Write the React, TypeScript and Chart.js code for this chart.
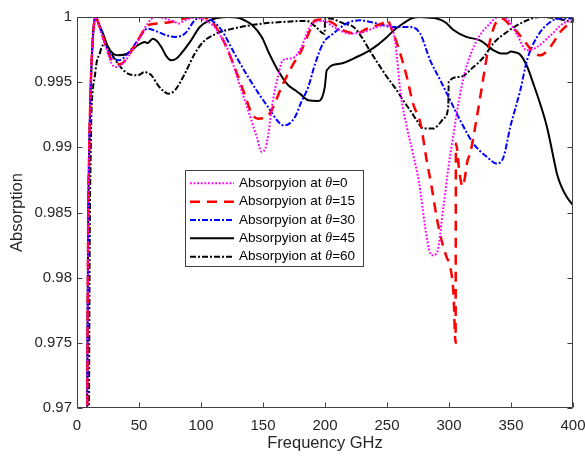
import React, { useEffect, useRef } from "react";
import { Chart, registerables } from "chart.js";

Chart.register(...registerables);

const FONT = "'Liberation Sans', Arial, sans-serif";
const AXIS_COLOR = "#404040";
const TEXT_COLOR = "#262626";

// Frequency (GHz) / absorption samples per incidence angle
const freq0 = [8, 9, 10, 11, 12, 13, 14, 15, 18, 21, 25, 28, 31, 35, 41, 49, 57, 63, 71, 78, 82, 87, 95, 103, 111, 116, 122, 130, 138, 145, 149, 153, 158, 162, 166, 174, 181, 186.5, 192, 199, 207, 220, 231, 242, 250, 254, 257, 261, 266, 271, 276, 282, 286, 290, 295.5, 299.6, 303.6, 309, 314, 322.5, 333, 340, 347, 355, 363, 371, 382, 392, 400];
const abs0 = [0.965, 0.9835, 0.9905, 0.9945, 0.997, 0.9987, 0.9997, 1.0, 0.9993, 0.9983, 0.9972, 0.9964, 0.99616, 0.9963, 0.9969, 0.9981, 0.9995, 1.0, 0.99988, 0.99965, 0.9995, 0.99975, 0.99995, 0.99975, 0.99923, 0.9985, 0.99744, 0.99514, 0.99284, 0.99079, 0.98964, 0.99029, 0.99361, 0.9954, 0.99668, 0.99685, 0.9977, 0.999, 0.99962, 0.9997, 0.99923, 0.99873, 0.99885, 0.99923, 0.99936, 0.9992, 0.9978, 0.9941, 0.99156, 0.9895, 0.9872, 0.98312, 0.98172, 0.98185, 0.98542, 0.98849, 0.991, 0.99412, 0.99616, 0.99821, 0.9995, 1.0, 0.99985, 0.9986, 0.99744, 0.9977, 0.9986, 0.9995, 0.99975];

const freq15 = [8, 9, 10, 11, 12, 13, 14, 15, 18, 21, 25, 28, 32, 36, 41, 49, 57, 65, 76, 87, 95, 102, 106, 111, 119, 127, 135, 141, 146, 153, 157, 165, 173, 181, 188, 192, 198, 207, 212, 225.6, 233.7, 242, 248, 250, 254, 259, 266, 271, 277, 282, 286, 290, 294, 298, 301, 303.6, 305.3, 305.6, 308.5, 311, 315, 317, 322.5, 326.5, 332, 337, 342.7, 349, 356, 362, 368, 373.6, 381.7, 389.7, 400];
const abs15 = [0.965, 0.9835, 0.9905, 0.9945, 0.997, 0.9987, 0.9997, 1.0, 0.9993, 0.9985, 0.9973, 0.99668, 0.9964, 0.99642, 0.997, 0.9982, 0.99936, 0.9995, 0.99962, 0.99988, 1.0, 1.0, 0.9998, 0.99936, 0.998, 0.99616, 0.99412, 0.99259, 0.9922, 0.99233, 0.99284, 0.99463, 0.99616, 0.99744, 0.999, 0.99975, 0.9998, 0.9995, 0.9991, 0.99873, 0.9991, 0.99936, 0.99962, 0.9998, 0.999, 0.9977, 0.9954, 0.99335, 0.99182, 0.989, 0.98696, 0.98466, 0.98287, 0.98159, 0.98082, 0.97878, 0.975, 0.9903, 0.988, 0.987, 0.989, 0.98952, 0.99233, 0.99463, 0.9977, 0.9994, 0.99988, 0.9994, 0.99873, 0.998, 0.99731, 0.99706, 0.9977, 0.99885, 0.99975];

const freq30 = [8, 9, 10, 11, 12, 13, 14, 15, 18, 21, 25, 29, 33.6, 41, 49, 57, 65.4, 72, 79, 87, 95, 100, 106, 116.5, 127, 138, 146, 154, 162, 166, 171, 175.8, 181, 186.5, 192, 198.6, 206.7, 217.5, 228, 242, 255, 269, 276.7, 284.8, 293, 300, 309, 319.7, 330.6, 338.6, 344, 349.4, 357.5, 362.9, 371, 381.7, 390, 400];
const abs30 = [0.965, 0.9835, 0.9905, 0.9945, 0.997, 0.9987, 0.9997, 1.0, 0.9993, 0.99847, 0.99744, 0.9969, 0.99668, 0.9972, 0.99821, 0.99911, 0.99885, 0.9986, 0.99847, 0.99873, 0.99975, 1.0, 0.9999, 0.999, 0.9972, 0.9954, 0.9942, 0.9931, 0.992, 0.99169, 0.9918, 0.99233, 0.9935, 0.99463, 0.9964, 0.998, 0.99873, 0.9995, 0.99975, 0.9995, 0.99923, 0.99923, 0.99873, 0.99668, 0.99514, 0.9938, 0.99207, 0.99029, 0.98926, 0.98875, 0.98926, 0.99156, 0.99438, 0.99668, 0.99847, 0.99962, 0.99988, 0.99988];

const freq45 = [8, 9, 10, 11, 12, 13, 14, 15, 18, 21, 25, 29, 33, 41, 49, 54.7, 57, 61, 64, 68, 72, 76, 80, 84, 92, 99, 106, 113, 122, 130, 135, 141, 149, 155, 162, 170, 176, 180, 186.5, 194, 197.5, 199.8, 201.4, 212, 225.6, 236, 243, 250, 257, 263, 270, 276.7, 284, 290, 297, 303.6, 314, 325, 336, 342, 346.7, 350, 353, 357.5, 363, 368, 374, 379, 383, 387, 391, 395, 400];
const abs45 = [0.966, 0.9835, 0.9905, 0.9945, 0.997, 0.9987, 0.9997, 1.0, 0.9994, 0.99873, 0.9977, 0.9972, 0.99706, 0.9972, 0.99783, 0.99808, 0.998, 0.99834, 0.9982, 0.9977, 0.997, 0.99668, 0.9968, 0.9972, 0.99821, 0.99923, 0.9997, 0.99992, 1.0, 0.99995, 0.99975, 0.9994, 0.99847, 0.9972, 0.99591, 0.9948, 0.99438, 0.9941, 0.99361, 0.99355, 0.9938, 0.9946, 0.99591, 0.99642, 0.99693, 0.99744, 0.9979, 0.99847, 0.9991, 0.9995, 0.9999, 1.0, 0.99995, 0.99988, 0.9996, 0.999, 0.99847, 0.99821, 0.99744, 0.9972, 0.9972, 0.99735, 0.9973, 0.9971, 0.9962, 0.99489, 0.9932, 0.99156, 0.9898, 0.988, 0.9869, 0.98619, 0.98555];

const freq60 = [9.5, 10.3, 11, 11.6, 12.5, 14.3, 16, 18.3, 20, 22.4, 25, 27.8, 33, 41, 49, 54.7, 57, 60, 65.4, 70, 73.5, 79, 87, 95, 101.7, 112.5, 126, 150, 166, 185, 192, 199.6, 200.2, 206, 215, 223, 230, 236, 243, 250, 257, 263, 269, 274, 279.4, 287.5, 293, 296, 299.4, 299.8, 309, 319.7, 328, 336, 346.7, 360, 373.6, 387, 400];
const abs60 = [0.965, 0.9836, 0.9892, 0.9925, 0.9942, 0.9954, 0.9966, 0.99719, 0.9977, 0.9979, 0.9977, 0.9972, 0.99642, 0.99566, 0.99553, 0.99578, 0.9957, 0.99553, 0.99476, 0.9943, 0.99412, 0.99438, 0.99566, 0.9972, 0.99808, 0.99873, 0.99911, 0.9995, 0.99962, 0.9997, 0.9993, 0.9987, 0.9999, 0.99985, 0.9995, 0.99923, 0.9984, 0.99744, 0.9964, 0.9954, 0.9945, 0.99361, 0.9928, 0.99207, 0.99144, 0.99144, 0.9919, 0.99225, 0.9931, 0.99505, 0.9954, 0.99616, 0.99693, 0.998, 0.99885, 0.99962, 1.0, 0.99988, 0.9996];

const thetaLabels = ["0", "15", "30", "45", "60"];
const seriesColors = ["#ff00ff", "#ff0000", "#0000ff", "#000000", "#000000"];
const seriesDashes = [[1.8, 1.8], [10, 7], [6, 2, 2, 2], [], [6, 2, 2, 2]];
const seriesWidths = [2, 2.5, 2, 2, 2];

const xTicks = { min: 0, max: 400, step: 50 };
const yTicks = { min: 0.97, max: 1, step: 0.005 };

const boxPlugin = {
  id: "matlabBox",
  afterDraw(chart: any) {
    const { ctx, chartArea, scales } = chart;
    const { left, right, top, bottom } = chartArea;
    const xs = scales.x;
    const ys = scales.y;
    ctx.save();
    ctx.strokeStyle = AXIS_COLOR;
    ctx.lineWidth = 1;
    ctx.setLineDash([]);
    const L = Math.round(left) + 0.5;
    const R = Math.round(right) - 0.5;
    const T = Math.round(top) + 0.5;
    const B = Math.round(bottom) - 0.5;
    ctx.beginPath();
    ctx.rect(L, T, R - L, B - T);
    ctx.stroke();
    const tl = 5;
    ctx.beginPath();
    xs.ticks.forEach((t: any) => {
      const px = Math.round(xs.getPixelForValue(t.value)) + 0.5;
      ctx.moveTo(px, B);
      ctx.lineTo(px, B - tl);
      ctx.moveTo(px, T);
      ctx.lineTo(px, T + tl);
    });
    ys.ticks.forEach((t: any) => {
      const py = Math.round(ys.getPixelForValue(t.value)) + 0.5;
      ctx.moveTo(L, py);
      ctx.lineTo(L + tl, py);
      ctx.moveTo(R, py);
      ctx.lineTo(R - tl, py);
    });
    ctx.stroke();

    // legend
    const bx = 185.5, by = 170.5, bw = 178, bh = 96;
    ctx.fillStyle = "#ffffff";
    ctx.fillRect(bx, by, bw, bh);
    ctx.strokeStyle = AXIS_COLOR;
    ctx.lineWidth = 1;
    ctx.strokeRect(bx, by, bw, bh);
    const rowH = 18.35;
    chart.data.datasets.forEach((ds: any, i: number) => {
      const cy = 183.3 + i * rowH;
      ctx.save();
      ctx.strokeStyle = ds.borderColor;
      ctx.lineWidth = ds.borderWidth;
      ctx.setLineDash(ds.borderDash || []);
      ctx.beginPath();
      ctx.moveTo(190, cy);
      ctx.lineTo(234, cy);
      ctx.stroke();
      ctx.restore();
      ctx.fillStyle = "#000000";
      ctx.textBaseline = "middle";
      ctx.textAlign = "left";
      let tx = 239;
      const pre = "Absorpyion at ";
      ctx.font = `13.5px ${FONT}`;
      ctx.fillText(pre, tx, cy);
      tx += ctx.measureText(pre).width;
      ctx.font = `italic 14px 'Liberation Serif', 'Times New Roman', serif`;
      ctx.fillText("θ", tx, cy);
      tx += ctx.measureText("θ").width;
      ctx.font = `13.5px ${FONT}`;
      ctx.fillText("=" + thetaLabels[i], tx, cy);
    });
    ctx.restore();
  },
};

export default function App() {
  const ref = useRef<HTMLCanvasElement | null>(null);
  useEffect(() => {
    if (!ref.current) return;
    const freqs = [freq0, freq15, freq30, freq45, freq60];
    const abss = [abs0, abs15, abs30, abs45, abs60];
    const chart = new Chart(ref.current, {
      type: "line",
      data: {
        datasets: freqs.map((fs, i) => ({
          label: "Absorpyion at θ=" + thetaLabels[i],
          data: fs.map((f, j) => ({ x: f, y: abss[i][j] })),
          borderColor: seriesColors[i],
          borderWidth: seriesWidths[i],
          borderDash: seriesDashes[i],
          pointRadius: 0,
          fill: false,
          cubicInterpolationMode: "monotone" as const,
        })),
      },
      options: {
        responsive: false,
        animation: false,
        devicePixelRatio: 1,
        layout: { padding: { left: 0, top: 17, right: 12, bottom: 0 } },
        plugins: { legend: { display: false }, tooltip: { enabled: false } },
        scales: {
          x: {
            type: "linear",
            min: xTicks.min,
            max: xTicks.max,
            grid: { display: false, drawTicks: false },
            border: { display: false },
            ticks: {
              stepSize: xTicks.step,
              padding: 9,
              color: TEXT_COLOR,
              font: { family: FONT, size: 15 },
              maxRotation: 0,
            },
            title: {
              display: true,
              text: "Frequency GHz",
              color: TEXT_COLOR,
              font: { family: FONT, size: 16.5 },
              padding: 7,
            },
            afterFit: (s: any) => {
              s.height = 52;
              s.paddingLeft = 0;
              s.paddingRight = 0;
            },
          },
          y: {
            type: "linear",
            min: yTicks.min,
            max: yTicks.max,
            grid: { display: false, drawTicks: false },
            border: { display: false },
            ticks: {
              stepSize: yTicks.step,
              padding: 5,
              color: TEXT_COLOR,
              font: { family: FONT, size: 15 },
              callback: (v: any) => String(parseFloat(Number(v).toFixed(3))),
            },
            title: {
              display: true,
              text: "Absorption",
              color: TEXT_COLOR,
              font: { family: FONT, size: 16.5 },
              padding: 8,
            },
            afterFit: (s: any) => {
              s.width = 77;
              s.paddingTop = 0;
              s.paddingBottom = 0;
            },
          },
        },
      },
      plugins: [boxPlugin],
    });
    return () => chart.destroy();
  }, []);
  return (
    <div style={{ position: "absolute", left: 0, top: 0, width: 585, height: 460, background: "#fff" }}>
      <canvas ref={ref} width={585} height={460} />
    </div>
  );
}
